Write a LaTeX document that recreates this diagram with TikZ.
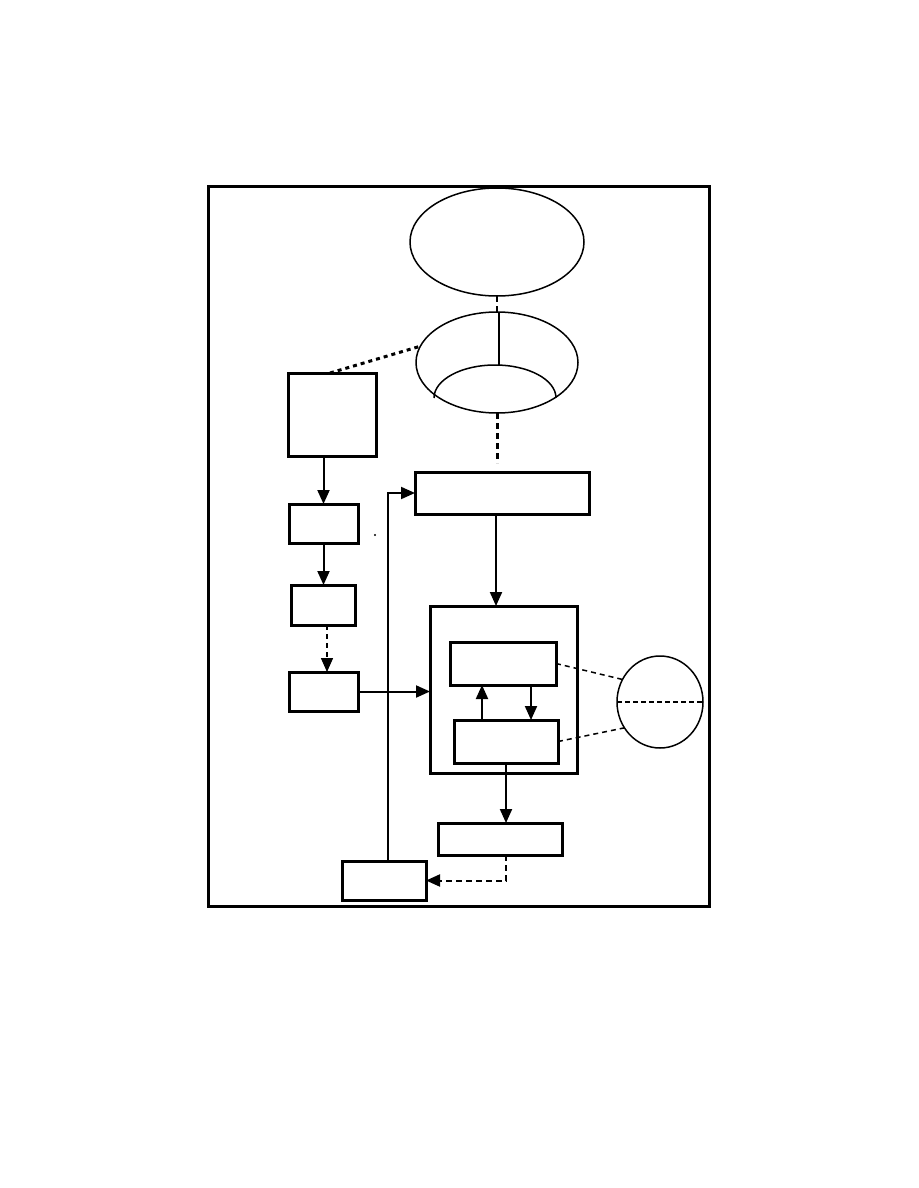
\documentclass[tikz,border=0pt]{standalone}
\usetikzlibrary{arrows.meta,shapes.geometric}

\begin{document}
\begin{tikzpicture}[x=0.5pt,y=-0.5pt,
    blk/.style={draw,line width=1.5pt,inner sep=0pt,outer sep=0pt},
    oval/.style={draw,ellipse,line width=0.75pt,inner sep=0pt,outer sep=0pt},
    link/.style={line width=1pt,-{Triangle[length=7pt,width=6pt]}},
    dlink/.style={link,dash pattern=on 3pt off 2pt},
    dotline/.style={line width=1.5pt,dash pattern=on 2pt off 2pt},
    thinline/.style={line width=0.75pt}]
  \useasboundingbox (0,0) rectangle (918,1188);
  % frame and ovals
  \node[blk,minimum width=250.5pt,minimum height=360pt] (frame) at (458.5,546) {};
  \node[oval,minimum width=87pt,minimum height=54pt] (ell1) at (497,242) {};
  \node[oval,minimum width=81pt,minimum height=50.5pt] (ell2) at (497,362.5) {};
  \node[oval,minimum width=43pt,minimum height=46pt] (circ) at (660,702) {};
  % boxes
  \node[blk,minimum width=44pt,minimum height=41.5pt] (box1) at (332,414.5) {};
  \node[blk,minimum width=34.5pt,minimum height=19.5pt] (box2) at (323.5,523.5) {};
  \node[blk,minimum width=32pt,minimum height=20pt] (box3) at (323,605) {};
  \node[blk,minimum width=34.5pt,minimum height=19.5pt] (box4) at (323.5,691.5) {};
  \node[blk,minimum width=87pt,minimum height=21pt] (wide) at (502,493) {};
  \node[blk,minimum width=73.5pt,minimum height=83.5pt] (big) at (503.5,689.5) {};
  \node[blk,minimum width=53pt,minimum height=21.5pt] (inA) at (503,663.5) {};
  \node[blk,minimum width=52pt,minimum height=21.5pt] (inB) at (506,741.5) {};
  \node[blk,minimum width=62pt,minimum height=16pt] (boxC) at (500,839) {};
  \node[blk,minimum width=42pt,minimum height=19.5pt] (boxD) at (384,880.5) {};
  % inside the lower oval
  \coordinate (hub) at (499,365);
  \draw[thinline] (hub |- ell2.north) -- (hub);
  \draw[thinline] (434,398) arc[start angle=180,end angle=0,x radius=30.5pt,y radius=16.5pt];
  \draw[thinline,dash pattern=on 3pt off 2pt] (ell1.south) -- (ell2.north);
  \draw[dotline] ([xshift=-1pt]box1.north) -- (ell2.168);
  \draw[line width=1.5pt,dash pattern=on 3pt off 2pt,shorten >=4.5pt] (ell2.south) -- (ell2.south |- wide.north);
  % left chain
  \draw[link] (box2.north |- box1.south) -- (box2.north);
  \draw[link] (box2.south) -- (box2.south |- box3.north);
  \draw[dlink,line width=0.75pt,dash pattern=on 2.5pt off 2pt] ([xshift=2pt]box3.south) -- ([xshift=2pt]box3.south |- box4.north);
  \draw[link] (box4.east) -- (box4.east -| big.west);
  \draw[link] ([xshift=-3pt]wide.south) -- ([xshift=-3pt]wide.south |- big.north);
  % inner loop
  \draw[link] ([xshift=-12pt]inB.north) -- ([xshift=-12pt]inB.north |- inA.south);
  \draw[link] ([xshift=14pt]inA.south) -- ([xshift=14pt]inA.south |- inB.north);
  \draw[thinline,dash pattern=on 2.5pt off 2pt] (inA.east) -- (circ.149);
  \draw[thinline,dash pattern=on 2.5pt off 2pt] (inB.east) -- (circ.216);
  \draw[line width=1pt,dash pattern=on 2.5pt off 1.5pt] (circ.west) -- (circ.east);
  % bottom loop
  \draw[link] (inB.south) -- (inB.south |- boxC.north);
  \draw[dlink] ([xshift=3pt]boxC.south) |- (boxD.east);
  \draw[link] ([xshift=2pt]boxD.north) |- (wide.west);
  \fill (375,535) circle[radius=0.6pt];
\end{tikzpicture}
\end{document}
